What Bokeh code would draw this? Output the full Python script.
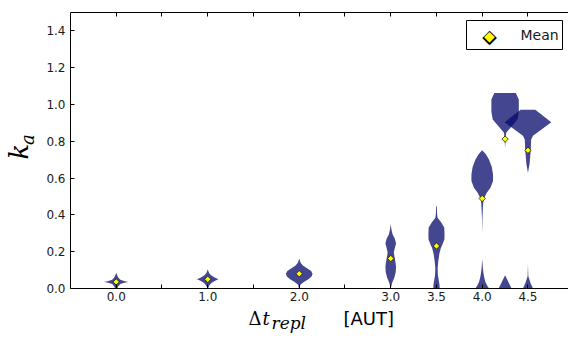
import numpy as np
from bokeh.plotting import figure
from bokeh.layouts import row, column
from bokeh.models import Range1d, FixedTicker, LinearAxis, Label, BoxAnnotation
from bokeh.embed import file_html
from bokeh.resources import INLINE

# ---- data -------------------------------------------------------------
positions = [0.0, 1.0, 2.0, 3.0, 3.5, 4.0, 4.25, 4.5]
means = [0.036, 0.050, 0.080, 0.163, 0.231, 0.489, 0.812, 0.751]

# violin profiles: k_a levels and half-widths (in Δt units)
v0_y = [0.0, 0.012, 0.024, 0.031, 0.036, 0.041, 0.048, 0.060, 0.072, 0.086]
v0_w = [0.012, 0.022, 0.045, 0.085, 0.132, 0.085, 0.045, 0.022, 0.010, 0.0]

v1_y = [0.0, 0.015, 0.030, 0.042, 0.050, 0.058, 0.070, 0.082, 0.094, 0.104]
v1_w = [0.004, 0.015, 0.040, 0.080, 0.118, 0.080, 0.040, 0.018, 0.007, 0.0]

v2_y = [0.0, 0.020, 0.035, 0.050, 0.065, 0.080, 0.095, 0.110, 0.125, 0.140, 0.163]
v2_w = [0.003, 0.012, 0.050, 0.100, 0.135, 0.146, 0.130, 0.085, 0.040, 0.015, 0.0]

v3_y = [0.0, 0.030, 0.060, 0.090, 0.120, 0.150, 0.175, 0.197, 0.220, 0.245, 0.270, 0.295, 0.320, 0.351]
v3_w = [0.0, 0.015, 0.040, 0.055, 0.058, 0.050, 0.040, 0.034, 0.045, 0.058, 0.045, 0.020, 0.008, 0.0]

v35_y = [0.0, 0.020, 0.045, 0.075, 0.112, 0.150, 0.190, 0.220, 0.245, 0.267, 0.300, 0.331, 0.360, 0.384, 0.410, 0.447]
v35_w = [0.035, 0.033, 0.025, 0.015, 0.013, 0.020, 0.032, 0.048, 0.070, 0.087, 0.088, 0.085, 0.050, 0.012, 0.006, 0.004]

v4_y = [0.0, 0.015, 0.035, 0.060, 0.085, 0.110, 0.140, 0.160, 0.300, 0.384, 0.420, 0.460, 0.489,
        0.520, 0.547, 0.584, 0.620, 0.660, 0.700, 0.730, 0.751]
v4_w = [0.075, 0.055, 0.035, 0.022, 0.013, 0.007, 0.003, 0.0, 0.0, 0.003, 0.006, 0.010, 0.018,
        0.050, 0.090, 0.118, 0.118, 0.105, 0.075, 0.040, 0.0]

v425_y = [0.0, 0.072, 0.100, 0.764, 0.812, 0.846, 0.918, 0.960, 1.027, 1.063]
v425_w = [0.071, 0.0, 0.0, 0.0, 0.006, 0.012, 0.135, 0.150, 0.150, 0.117]

v45_y = [0.0, 0.030, 0.067, 0.130, 0.628, 0.680, 0.751, 0.810, 0.830, 0.904, 0.972]
v45_w = [0.055, 0.028, 0.004, 0.0, 0.0, 0.018, 0.030, 0.035, 0.055, 0.255, 0.080]

profiles_y = [v0_y, v1_y, v2_y, v3_y, v35_y, v4_y, v425_y, v45_y]
profiles_w = [v0_w, v1_w, v2_w, v3_w, v35_w, v4_w, v425_w, v45_w]

x_ticks = [0.0, 0.5, 1.0, 1.5, 2.0, 2.5, 3.0, 3.5, 4.0, 4.5]
x_tick_labels = ["0.0", "", "1.0", "", "2.0", "", "3.0", "3.5", "4.0", "4.5"]
y_ticks = [0.0, 0.2, 0.4, 0.6, 0.8, 1.0, 1.2, 1.4]
y_tick_labels = ["0.0", "0.2", "0.4", "0.6", "0.8", "1.0", "1.2", "1.4"]
legend_label = "Mean"

# ---- main figure ------------------------------------------------------
p = figure(width=528, height=306, x_range=Range1d(-0.5, 4.943), y_range=Range1d(0, 1.5),
           x_axis_type=None, y_axis_type=None, output_backend="svg", toolbar_location=None,
           min_border_left=30, min_border_right=0, min_border_top=12, min_border_bottom=18,
           background_fill_color="white", border_fill_color="white")
p.outline_line_color = None


def segments(py, pw):
    """split a violin profile where its width drops to zero"""
    segs, cur = [], []
    for y, w in zip(py, pw):
        cur.append((y, w))
        if w == 0 and len(cur) > 1:
            segs.append(cur)
            cur = [(y, w)]
    if len(cur) > 1:
        segs.append(cur)
    return [s for s in segs if any(w > 0 for _, w in s)]


xs, ys = [], []
for pos, py, pw in zip(positions, profiles_y, profiles_w):
    for seg in segments(py, pw):
        sy = [y for y, _ in seg]
        sw = [w for _, w in seg]
        xs.append([pos + w for w in sw] + [pos - w for w in sw][::-1])
        ys.append(sy + sy[::-1])

p.patches(xs, ys, fill_color="#050a69", fill_alpha=0.75, line_color=None)

p.scatter(positions, means, marker="square", angle=np.pi / 4, size=4.5,
          fill_color="yellow", line_color="black", line_width=0.7)


def make_axis(ticks, labels, show_labels=True):
    return LinearAxis(ticker=FixedTicker(ticks=ticks),
                      major_label_overrides={t: (l if show_labels else "") for t, l in zip(ticks, labels)},
                      major_tick_in=4, major_tick_out=0, minor_tick_in=0, minor_tick_out=0,
                      axis_line_color="black", axis_line_width=1,
                      major_tick_line_color="black", major_tick_line_width=1,
                      major_label_text_font="DejaVu Sans", major_label_text_color="#1a1a1a",
                      major_label_text_font_size="12px" if show_labels else "0px",
                      major_label_standoff=3 if show_labels else 0)


p.add_layout(make_axis(x_ticks, x_tick_labels), "below")
p.add_layout(make_axis(x_ticks, x_tick_labels, show_labels=False), "above")
yax = make_axis(y_ticks, y_tick_labels)
yax.major_label_standoff = 5
p.add_layout(yax, "left")

# legend box (screen units from the frame's lower-left corner)
p.add_layout(BoxAnnotation(left=396, right=492, bottom=239, top=268,
                           left_units="screen", right_units="screen",
                           bottom_units="screen", top_units="screen",
                           fill_color="white", fill_alpha=1.0, line_color="black", line_width=1,
                           line_alpha=1.0))
p.add_layout(Label(x=419, y=253, x_units="screen", y_units="screen", text="◆",
                   text_align="center", text_baseline="middle",
                   text_font="DejaVu Sans", text_font_size="19px", text_color="black"))
p.add_layout(Label(x=419, y=253, x_units="screen", y_units="screen", text="◆",
                   text_align="center", text_baseline="middle",
                   text_font="DejaVu Sans", text_font_size="14px", text_color="yellow"))
p.add_layout(Label(x=450, y=254, x_units="screen", y_units="screen", text=legend_label,
                   text_align="left", text_baseline="middle",
                   text_font="DejaVu Sans", text_font_size="14px", text_color="#1a1a1a"))

# ---- axis titles (helper panels) --------------------------------------
math_font = "DejaVu Serif"


def text_panel(w, h):
    f = figure(width=w, height=h, x_range=Range1d(0, w), y_range=Range1d(0, h),
               x_axis_type=None, y_axis_type=None, output_backend="svg", toolbar_location=None,
               min_border=0, background_fill_color="white", border_fill_color="white")
    f.outline_line_color = None
    return f


xl = text_panel(568, 36)
xl.add_layout(Label(x=248, y=14, text="Δ", text_font=math_font, text_font_size="18px", text_color="black"))
xl.add_layout(Label(x=262, y=14, text="t", text_font=math_font, text_font_style="italic",
                    text_font_size="18px", text_color="black"))
xl.add_layout(Label(x=271, y=10, text="repl", text_font=math_font, text_font_style="italic",
                    text_font_size="17px", text_color="black"))
xl.add_layout(Label(x=343, y=14, text="[AUT]", text_font="DejaVu Sans", text_font_size="18px",
                    text_color="black"))

yl = text_panel(40, 306)
yl.add_layout(Label(x=33, y=143, text="k", angle=np.pi / 2, text_font=math_font, text_font_style="italic",
                    text_font_size="26px", text_color="black"))
yl.add_layout(Label(x=37, y=159, text="a", angle=np.pi / 2, text_font=math_font, text_font_style="italic",
                    text_font_size="18px", text_color="black"))

layout = column(row(yl, p, spacing=0), xl, spacing=0)
open("out.html", "w").write(file_html(layout, INLINE))
